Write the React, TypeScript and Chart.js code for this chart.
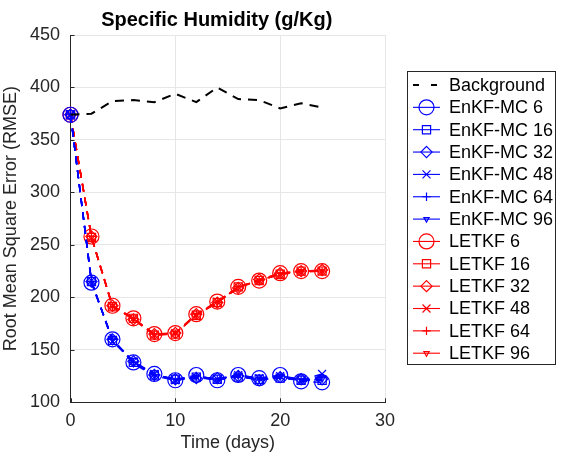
import React, { useEffect, useRef } from "react";
import { Chart, registerables } from "chart.js";

Chart.register(...registerables);

// ---------- data ----------
const days = [0, 2, 4, 6, 8, 10, 12, 14, 16, 18, 20, 22, 24];
const xTicks = [0, 10, 20, 30];
const yTicks = [100, 150, 200, 250, 300, 350, 400, 450];

const background = [374, 375, 387, 388, 386, 394, 386, 400, 389, 388, 380, 385, 381];

const enkf6 = [374, 214, 160, 138, 127, 121, 126, 121, 126, 123, 126, 120, 119];
const enkf16 = [374, 215, 159, 138, 126, 122, 124, 122, 124, 122, 123, 121, 121];
const enkf32 = [374, 215, 160, 139, 126, 122, 123, 123, 125, 121, 124, 122, 122];
const enkf48 = [374, 216, 158, 139, 127, 121, 124, 122, 126, 123, 125, 121, 127];
const enkf64 = [374, 215, 160, 138, 126, 122, 125, 122, 126, 122, 125, 122, 124];
const enkf96 = [374, 214, 160, 137, 125, 121, 124, 121, 125, 122, 124, 121, 122];

const letkf6 = [374, 258, 192, 180, 165, 166, 184, 196, 210, 216, 223, 225, 225];
const letkf16 = [374, 257, 191, 180, 164, 165, 183, 195, 210, 216, 222, 225, 225];
const letkf32 = [374, 258, 192, 179, 165, 166, 184, 195, 209, 217, 223, 225, 226];
const letkf48 = [374, 257, 192, 180, 164, 166, 183, 196, 210, 216, 222, 224, 225];
const letkf64 = [374, 258, 191, 180, 165, 165, 184, 195, 210, 216, 223, 225, 225];
const letkf96 = [374, 257, 192, 179, 164, 166, 183, 195, 209, 216, 222, 225, 225];

const seriesNames = [
  "Background",
  "EnKF-MC 6", "EnKF-MC 16", "EnKF-MC 32", "EnKF-MC 48", "EnKF-MC 64", "EnKF-MC 96",
  "LETKF 6", "LETKF 16", "LETKF 32", "LETKF 48", "LETKF 64", "LETKF 96",
];
const seriesValues = [
  background,
  enkf6, enkf16, enkf32, enkf48, enkf64, enkf96,
  letkf6, letkf16, letkf32, letkf48, letkf64, letkf96,
];

// ---------- styles ----------
const BLUE = "#0000ff";
const RED = "#ff0000";
const AXIS = "#262626";
const GRID = "#e6e6e6";
const FONT = '"Liberation Sans", Arial, Helvetica, sans-serif';

type Marker = { style: string; r: number; rot: number };
const markers: Marker[] = [
  { style: "circle", r: 7.5, rot: 0 },
  { style: "rect", r: 5.8, rot: 0 },
  { style: "rectRot", r: 5.6, rot: 0 },
  { style: "crossRot", r: 5.6, rot: 0 },
  { style: "cross", r: 4.2, rot: 0 },
  { style: "triangle", r: 3, rot: 180 },
];

function drawMarker(ctx: CanvasRenderingContext2D, m: Marker, x: number, y: number) {
  const r = m.r;
  ctx.beginPath();
  switch (m.style) {
    case "circle":
      ctx.arc(x, y, r, 0, Math.PI * 2);
      break;
    case "rect": {
      const s = Math.SQRT1_2 * r;
      ctx.rect(x - s, y - s, 2 * s, 2 * s);
      break;
    }
    case "rectRot":
      ctx.moveTo(x, y - r);
      ctx.lineTo(x + r, y);
      ctx.lineTo(x, y + r);
      ctx.lineTo(x - r, y);
      ctx.closePath();
      break;
    case "crossRot": {
      const s = Math.SQRT1_2 * r;
      ctx.moveTo(x - s, y - s);
      ctx.lineTo(x + s, y + s);
      ctx.moveTo(x - s, y + s);
      ctx.lineTo(x + s, y - s);
      break;
    }
    case "cross":
      ctx.moveTo(x - r, y);
      ctx.lineTo(x + r, y);
      ctx.moveTo(x, y - r);
      ctx.lineTo(x, y + r);
      break;
    case "triangle": {
      let a = (m.rot * Math.PI) / 180;
      ctx.moveTo(x + Math.sin(a) * r, y - Math.cos(a) * r);
      a += (2 * Math.PI) / 3;
      ctx.lineTo(x + Math.sin(a) * r, y - Math.cos(a) * r);
      a += (2 * Math.PI) / 3;
      ctx.lineTo(x + Math.sin(a) * r, y - Math.cos(a) * r);
      ctx.closePath();
      break;
    }
  }
  ctx.stroke();
}

const decorPlugin = {
  id: "decor",
  afterDraw(chart: any) {
    const ctx: CanvasRenderingContext2D = chart.ctx;
    const { left, right, bottom } = chart.chartArea;
    const xs = chart.scales.x;
    const ys = chart.scales.y;
    ctx.save();
    // inward tick marks
    ctx.strokeStyle = AXIS;
    ctx.lineWidth = 1;
    ctx.setLineDash([]);
    ctx.beginPath();
    xTicks.forEach((t) => {
      const px = Math.round(xs.getPixelForValue(t)) + 0.5;
      ctx.moveTo(px, bottom);
      ctx.lineTo(px, bottom - 4);
    });
    yTicks.forEach((t) => {
      const py = Math.round(ys.getPixelForValue(t)) + 0.5;
      ctx.moveTo(left, py);
      ctx.lineTo(left + 4, py);
    });
    ctx.stroke();

    // title
    ctx.fillStyle = "#000";
    ctx.font = `bold 20px ${FONT}`;
    ctx.textAlign = "center";
    ctx.textBaseline = "alphabetic";
    ctx.fillText("Specific Humidity (g/Kg)", (left + right) / 2 - 11, 26);

    // legend
    const bx = 407.5, by = 71.5, bw = 148, bh = 293;
    ctx.fillStyle = "#fff";
    ctx.fillRect(bx, by, bw, bh);
    ctx.strokeStyle = AXIS;
    ctx.lineWidth = 1;
    ctx.strokeRect(bx, by, bw, bh);
    ctx.font = `18px ${FONT}`;
    ctx.textAlign = "left";
    ctx.textBaseline = "middle";
    seriesNames.forEach((name, i) => {
      const y = 85 + i * 22.35;
      let color = "#000";
      if (i >= 1 && i <= 6) color = BLUE;
      if (i >= 7) color = RED;
      ctx.strokeStyle = color;
      ctx.lineWidth = i === 0 ? 2 : 1.1;
      ctx.setLineDash(i === 0 ? [6, 12] : []);
      ctx.beginPath();
      ctx.moveTo(413, y);
      ctx.lineTo(i === 0 ? 438 : 440, y);
      ctx.stroke();
      ctx.setLineDash([]);
      if (i > 0) {
        const m = markers[(i - 1) % 6];
        ctx.lineWidth = 1.2;
        if (m.style === "circle" || m.style === "rect" || m.style === "rectRot") {
          // clear interior like an unfilled marker drawn over a line
          ctx.save();
          ctx.fillStyle = "#fff";
          ctx.beginPath();
          ctx.restore();
        }
        drawMarker(ctx, m, 426.5, y);
      }
      ctx.fillStyle = "#000";
      ctx.fillText(name, 449, y + 1);
    });
    ctx.restore();
  },
};

export default function App() {
  const ref = useRef<HTMLCanvasElement | null>(null);

  useEffect(() => {
    document.body.style.margin = "0";
    Chart.defaults.font.family = FONT;
    const datasets = seriesValues.map((vals, i) => {
      const isBg = i === 0;
      const color = isBg ? "#000" : i <= 6 ? BLUE : RED;
      const m = isBg ? null : markers[(i - 1) % 6];
      return {
        label: seriesNames[i],
        data: vals.map((v, k) => ({ x: days[k], y: v })),
        borderColor: color,
        backgroundColor: "rgba(0,0,0,0)",
        borderWidth: isBg ? 2 : 1.5,
        borderDash: isBg ? [9, 7] : [8, 6],
        pointRadius: m ? m.r : 0,
        pointStyle: m ? m.style : "circle",
        pointRotation: m ? m.rot : 0,
        pointBorderColor: color,
        pointBackgroundColor: "rgba(0,0,0,0)",
        pointBorderWidth: 1.2,
        tension: 0,
        clip: false as any,
      };
    });

    const chart = new Chart(ref.current as HTMLCanvasElement, {
      type: "line",
      data: { datasets },
      options: {
        animation: false,
        responsive: false,
        events: [],
        layout: { padding: { left: 0, top: 35, right: 179, bottom: 4.2 } },
        plugins: { legend: { display: false }, title: { display: false }, tooltip: { enabled: false } },
        scales: {
          x: {
            type: "linear",
            min: 0,
            max: 30,
            afterBuildTicks: (s: any) => { s.ticks = xTicks.map((v) => ({ value: v })); },
            afterFit: (s: any) => { s.height = 51.5; },
            ticks: { color: AXIS, font: { size: 18 }, padding: 8, maxRotation: 0 },
            grid: { color: GRID, drawTicks: false, lineWidth: 1 },
            border: { display: true, color: AXIS, width: 1 },
            title: { display: true, text: "Time (days)", color: AXIS, font: { size: 18 }, padding: 0 },
          },
          y: {
            type: "linear",
            min: 100,
            max: 450,
            afterBuildTicks: (s: any) => { s.ticks = yTicks.map((v) => ({ value: v })); },
            afterFit: (s: any) => { s.width = 70.5; },
            ticks: { color: AXIS, font: { size: 18 }, padding: 10.5 },
            grid: { color: GRID, drawTicks: false, lineWidth: 1 },
            border: { display: true, color: AXIS, width: 1 },
            title: { display: true, text: "Root Mean Square Error (RMSE)", color: AXIS, font: { size: 18 }, padding: 0 },
          },
        },
      } as any,
      plugins: [decorPlugin],
    });
    return () => chart.destroy();
  }, []);

  return (
    <div style={{ position: "fixed", left: 0, top: 0, width: 564, height: 458, background: "#fff" }}>
      <canvas ref={ref} width={564} height={458} />
    </div>
  );
}
